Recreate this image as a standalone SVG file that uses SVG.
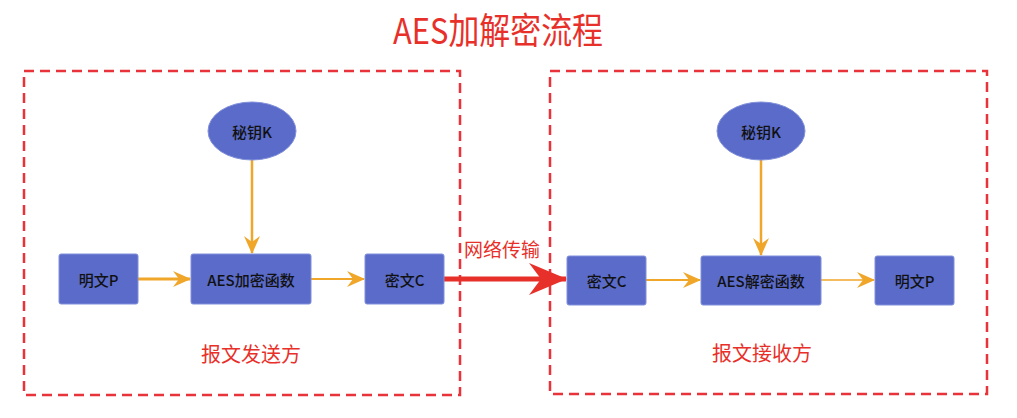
<svg xmlns="http://www.w3.org/2000/svg" width="1017" height="418" viewBox="0 0 1017 418">
<style>
.frame{fill:none;stroke:#E8333A;stroke-width:2.5;stroke-dasharray:10 6}
.node{fill:#5A6BC9;stroke:#8190DA;stroke-width:1}
.lbl{font-family:"Noto Sans CJK SC","Liberation Sans",sans-serif;font-size:15px;font-weight:500;fill:#111;text-anchor:middle;dominant-baseline:central}
.red{font-family:"Noto Sans CJK SC","Liberation Sans",sans-serif;fill:#E8302A;text-anchor:middle;dominant-baseline:central}
.oline{stroke:#F0A629;fill:none}
</style>
<defs>
<marker id="oa" viewBox="0 0 18 16" refX="17" refY="8" markerWidth="18" markerHeight="16" markerUnits="userSpaceOnUse" orient="auto">
<path d="M0,0 L18,8 L0,16 L6,8 Z" fill="#F0A629"/>
</marker>
<marker id="ra" viewBox="0 0 38 32" refX="37" refY="16" markerWidth="38" markerHeight="32" markerUnits="userSpaceOnUse" orient="auto">
<path d="M0,0 L38,16 L0,32 L12,16 Z" fill="#E8302A"/>
</marker>
</defs>
<text class="red" x="498" y="28" font-size="36" textLength="210" lengthAdjust="spacingAndGlyphs">AES加解密流程</text>
<g id="sender">
<rect class="frame" x="24" y="71" width="436" height="324"/>
<text class="red" x="251" y="353" font-size="20">报文发送方</text>
</g>
<g id="receiver">
<rect class="frame" x="550" y="71" width="437" height="323"/>
<text class="red" x="762" y="352" font-size="20">报文接收方</text>
</g>
<g id="connectors">
<line class="oline" x1="252" y1="160" x2="252" y2="253" stroke-width="2.5" marker-end="url(#oa)"/>
<line class="oline" x1="138" y1="279" x2="190" y2="279" stroke-width="3" marker-end="url(#oa)"/>
<line class="oline" x1="311" y1="279" x2="364" y2="279" stroke-width="2" marker-end="url(#oa)"/>
<line class="oline" x1="761" y1="160" x2="761" y2="255" stroke-width="2.5" marker-end="url(#oa)"/>
<line class="oline" x1="646" y1="280" x2="700" y2="280" stroke-width="2" marker-end="url(#oa)"/>
<line class="oline" x1="821" y1="280" x2="874" y2="280" stroke-width="1.5" marker-end="url(#oa)"/>
<line x1="444" y1="279" x2="566" y2="279" stroke="#E8302A" stroke-width="5" marker-end="url(#ra)"/>
<text class="red" x="502" y="248" font-size="19">网络传输</text>
</g>
<g id="key1"><ellipse class="node" cx="252" cy="131" rx="44" ry="29"/><text class="lbl" x="252" y="131">秘钥K</text></g>
<g id="plain1"><rect class="node" x="59" y="254" width="79" height="50" rx="2"/><text class="lbl" x="98.5" y="279">明文P</text></g>
<g id="enc"><rect class="node" x="191" y="254" width="120" height="50" rx="2"/><text class="lbl" x="251" y="279">AES加密函数</text></g>
<g id="cipher1"><rect class="node" x="365" y="254" width="79" height="50" rx="2"/><text class="lbl" x="404.5" y="279">密文C</text></g>
<g id="key2"><ellipse class="node" cx="761" cy="131" rx="44" ry="29"/><text class="lbl" x="761" y="131">秘钥K</text></g>
<g id="cipher2"><rect class="node" x="567" y="256" width="79" height="49" rx="2"/><text class="lbl" x="606.5" y="280">密文C</text></g>
<g id="dec"><rect class="node" x="701" y="256" width="120" height="49" rx="2"/><text class="lbl" x="761" y="280">AES解密函数</text></g>
<g id="plain2"><rect class="node" x="875" y="256" width="79" height="49" rx="2"/><text class="lbl" x="914.5" y="280">明文P</text></g>
</svg>
